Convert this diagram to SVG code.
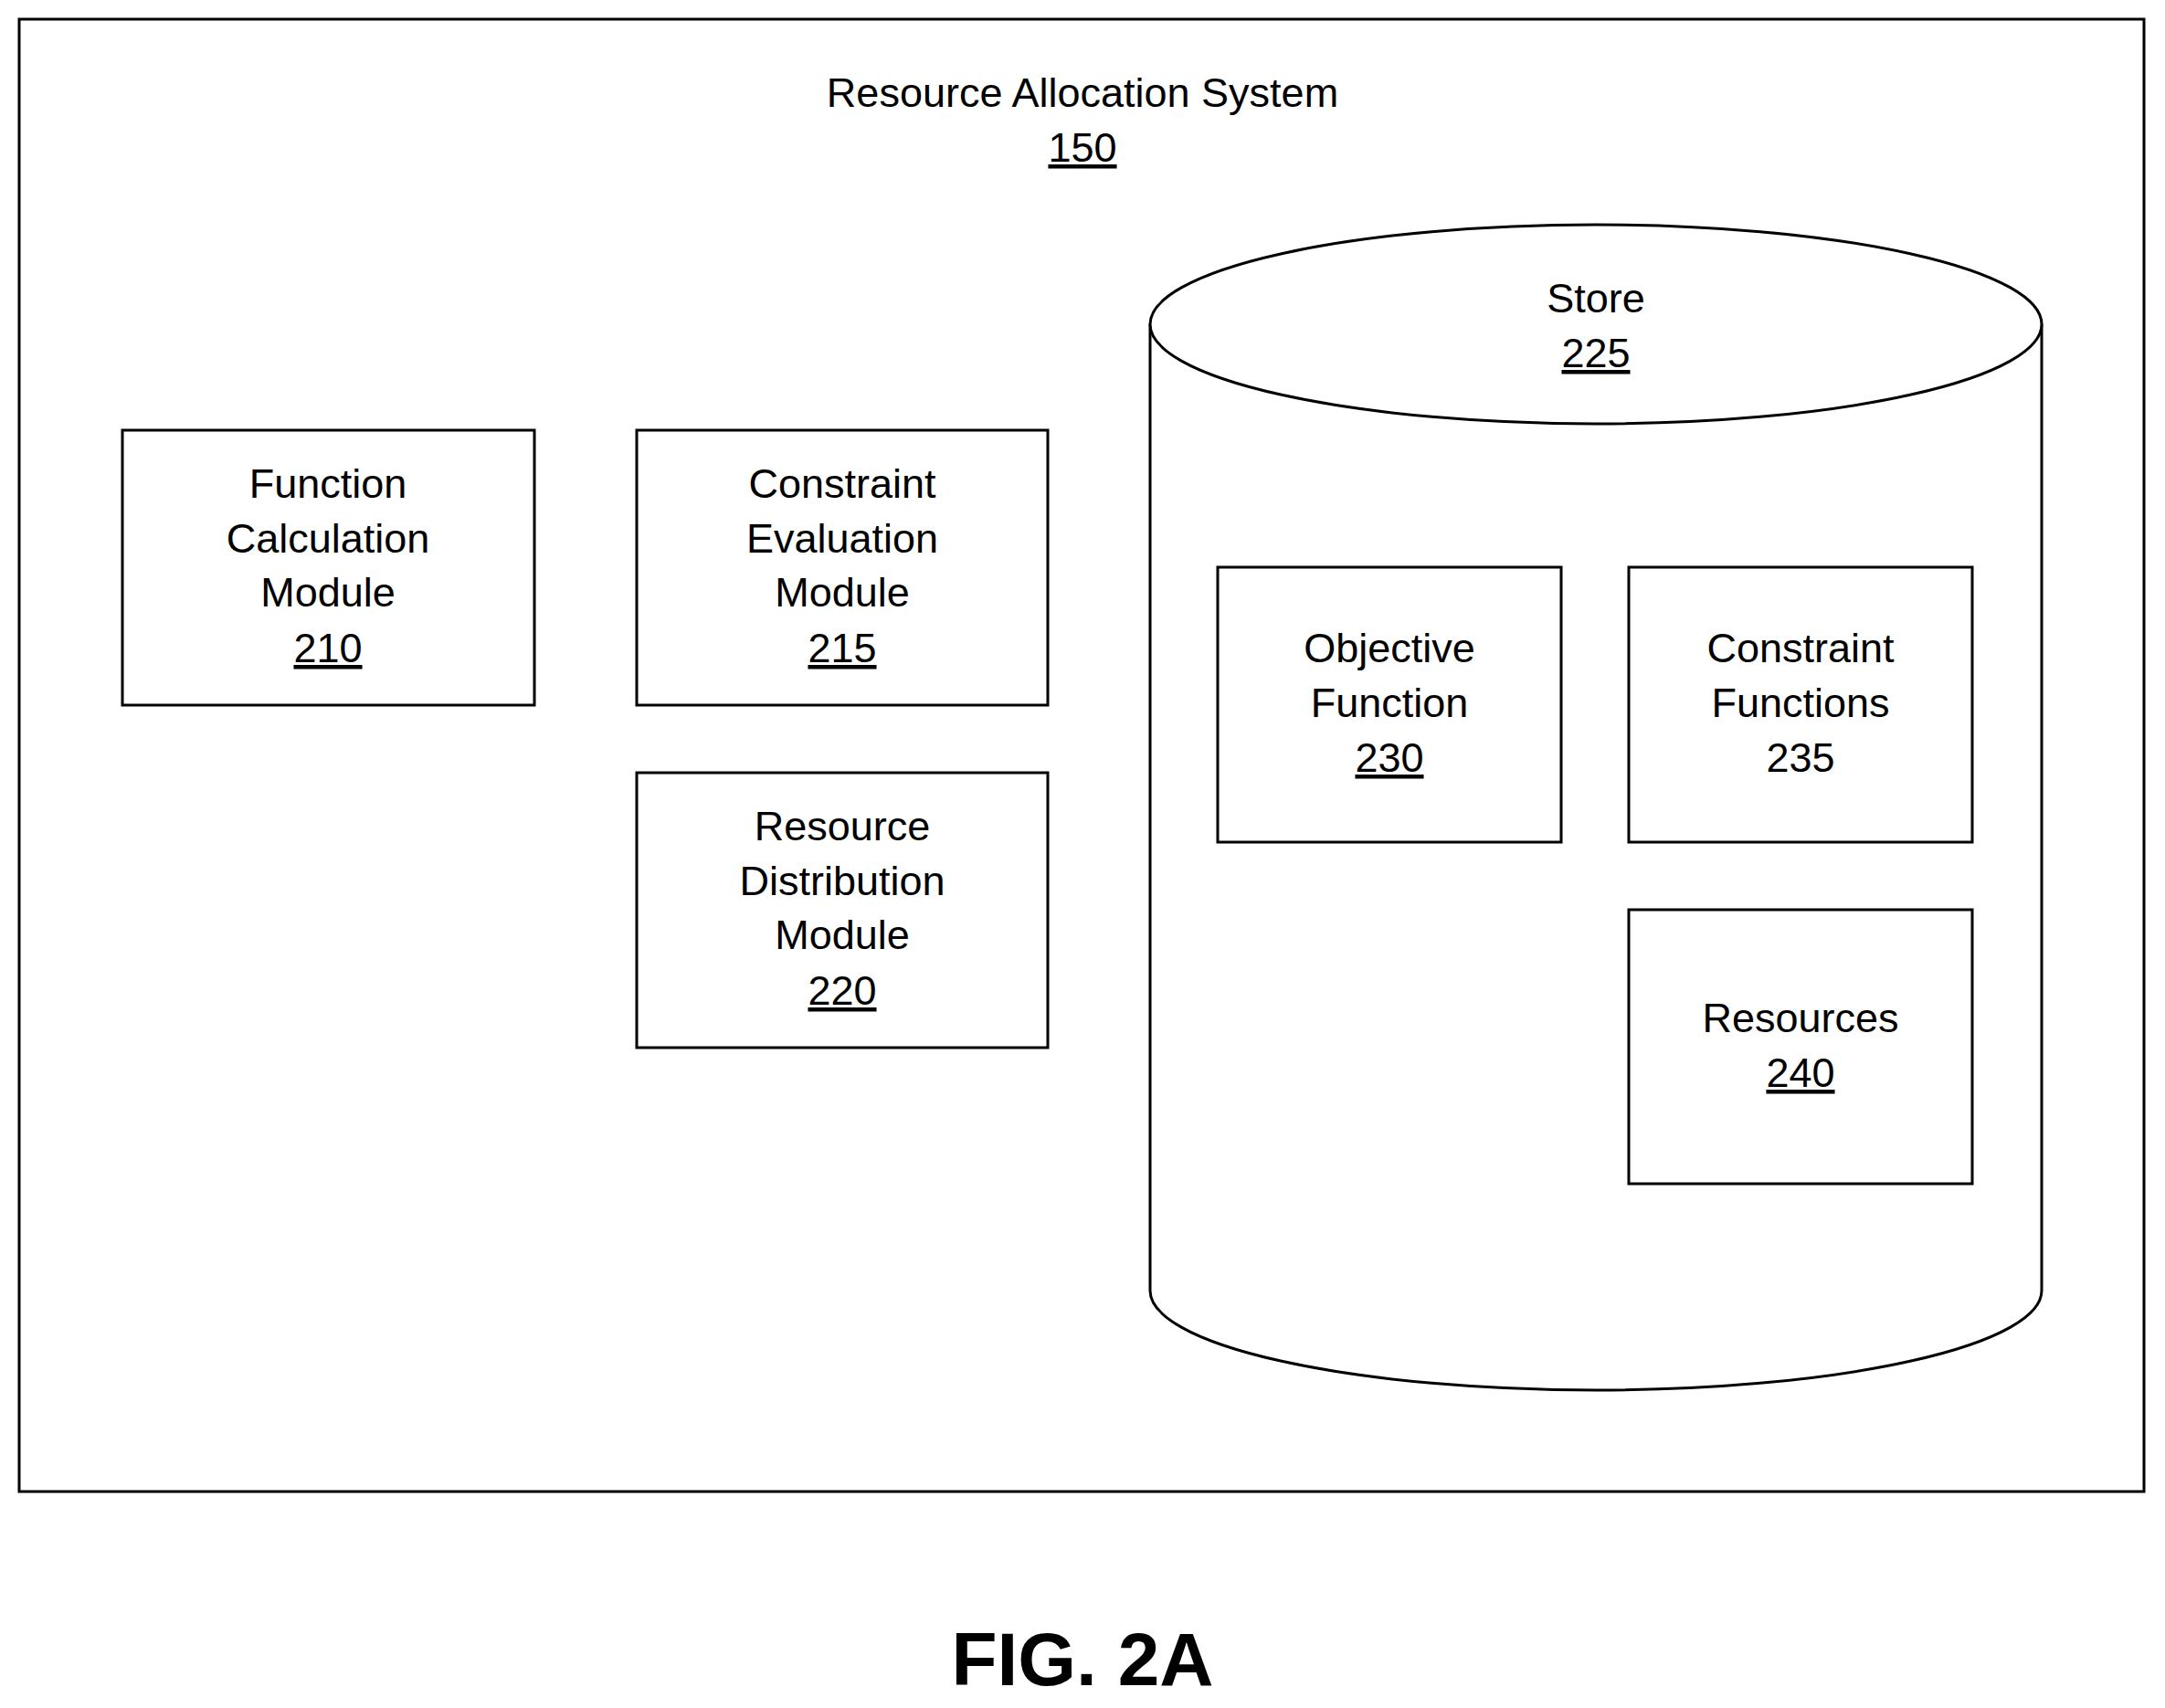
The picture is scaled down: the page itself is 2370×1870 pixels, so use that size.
<svg xmlns="http://www.w3.org/2000/svg" width="2370" height="1870" viewBox="0 0 2370 1870">
<style>
.b{fill:#fff;stroke:#000;stroke-width:3}
text{font-family:"Liberation Sans",Arial,sans-serif;font-size:45px;text-anchor:middle;fill:#000}
.u{text-decoration:underline}
</style>
<rect width="2370" height="1870" fill="#fff"/>
<g id="system">
<rect class="b" x="21" y="21" width="2326" height="1612"/>
<text x="1185" y="117">Resource Allocation System</text>
<text class="u" x="1185" y="177">150</text>
</g>
<g id="n210">
<rect class="b" x="134" y="471" width="451" height="301"/>
<text x="359" y="545">Function</text><text x="359" y="605">Calculation</text><text x="359" y="664">Module</text><text class="u" x="359" y="725">210</text>
</g>
<g id="n215">
<rect class="b" x="697" y="471" width="450" height="301"/>
<text x="922" y="545">Constraint</text><text x="922" y="605">Evaluation</text><text x="922" y="664">Module</text><text class="u" x="922" y="725">215</text>
</g>
<g id="n220">
<rect class="b" x="697" y="846" width="450" height="301"/>
<text x="922" y="920">Resource</text><text x="922" y="980">Distribution</text><text x="922" y="1039">Module</text><text class="u" x="922" y="1100">220</text>
</g>
<g id="n225">
<path class="b" d="M1259,355 V1413 A488,109 0 0 0 2235,1413 V355"/>
<ellipse class="b" cx="1747" cy="355" rx="488" ry="109"/>
<text x="1747" y="342">Store</text><text class="u" x="1747" y="402">225</text>
</g>
<g id="n230">
<rect class="b" x="1333" y="621" width="376" height="301"/>
<text x="1521" y="725">Objective</text><text x="1521" y="785">Function</text><text class="u" x="1521" y="845">230</text>
</g>
<g id="n235">
<rect class="b" x="1783" y="621" width="376" height="301"/>
<text x="1971" y="725">Constraint</text><text x="1971" y="785">Functions</text><text x="1971" y="845">235</text>
</g>
<g id="n240">
<rect class="b" x="1783" y="996" width="376" height="300"/>
<text x="1971" y="1130">Resources</text><text class="u" x="1971" y="1190">240</text>
</g>
<g id="connectors"/>
<text x="1185" y="1845" style="font-size:82px;font-weight:bold">FIG. 2A</text>
</svg>
